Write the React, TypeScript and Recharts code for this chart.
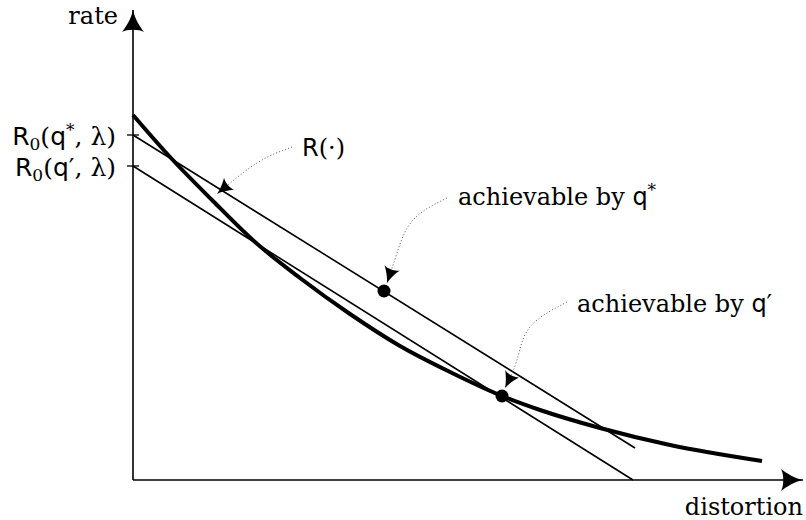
import { ComposedChart, Line, Scatter, XAxis, YAxis } from 'recharts'

// rate-distortion curve R(.)
const curveDist = [0, 0.37, 0.79, 1.22, 1.67, 2.17, 2.67, 3.17, 3.69, 4.07, 4.67, 5.37, 6.29]
const curveRate = [3.65, 3.23, 2.8, 2.38, 2.02, 1.66, 1.34, 1.08, 0.84, 0.7, 0.52, 0.35, 0.19]
const curve = curveDist.map((x, i) => ({ x, y: curveRate[i] }))

// supporting lines of slope -lambda
const lineStar = [{ x: 0, y: 3.45 }, { x: 5.02, y: 0.32 }]
const linePrime = [{ x: 0, y: 3.14 }, { x: 5.0, y: 0.0 }]

// achievable points
const achievable = [{ x: 2.51, y: 1.89 }, { x: 3.69, y: 0.84 }]

// y ticks R0(q*, λ), R0(q', λ)
const rTicks = [3.45, 3.14]
const rTickMarks = ['*', '′']

// dotted pointers, from label to tip
const pointerR = [{ x: 1.59, y: 3.33 }, { x: 1.24, y: 3.17 }, { x: 0.84, y: 2.86 }]
const pointerStar = [{ x: 3.14, y: 2.82 }, { x: 2.8, y: 2.6 }, { x: 2.64, y: 2.27 }, { x: 2.54, y: 1.97 }]
const pointerPrime = [{ x: 4.34, y: 1.78 }, { x: 3.97, y: 1.53 }, { x: 3.84, y: 1.2 }, { x: 3.72, y: 0.92 }]

// annotation text anchors (start, baseline)
const notes = [
  { x: 1.69, y: 3.24, kind: 'R' },
  { x: 3.25, y: 2.75, kind: '*' },
  { x: 4.44, y: 1.68, kind: '′' },
]

const serif = 'DejaVu Serif'
const sans = 'DejaVu Sans'

function NoteText(props: any) {
  const { cx, cy, payload } = props
  if (payload.kind === 'R') {
    return (
      <text x={cx} y={cy} fontFamily={serif} fontSize={24} fill="#000">
        <tspan fontFamily={sans}>R</tspan>(·)
      </text>
    )
  }
  const sup = payload.kind === '*'
  return (
    <text x={cx} y={cy} fontFamily={serif} fontSize={24} fill="#000">
      achievable by <tspan fontFamily={sans}>q</tspan>
      {sup ? <tspan fontSize={17} dy={-9}>*</tspan> : <tspan fontFamily={sans}>′</tspan>}
    </text>
  )
}

function RateTick(props: any) {
  const { x, y, index } = props
  const mark = rTickMarks[index]
  return (
    <g>
      <line x1={x - 6} x2={x + 6} y1={y} y2={y} stroke="#000" strokeWidth={1.3} />
      <text x={x - 17} y={y + 10} textAnchor="end" fontFamily={serif} fontSize={25} fill="#000">
        <tspan fontFamily={sans}>R</tspan>
        <tspan fontSize={17} dy={5}>0</tspan>
        <tspan dy={-5}>(</tspan>
        <tspan fontFamily={sans}>q</tspan>
        {mark === '*' ? (
          <>
            <tspan fontSize={17} dy={-9}>*</tspan>
            <tspan dy={9}>, λ)</tspan>
          </>
        ) : (
          <>
            <tspan fontFamily={sans}>′</tspan>
            <tspan>, λ)</tspan>
          </>
        )}
      </text>
    </g>
  )
}

export default function App() {
  return (
    <div style={{ position: 'absolute', left: 0, top: 0 }}>
      <ComposedChart width={806} height={520} margin={{ top: 10, right: 3, bottom: 0, left: 0 }}>
        <defs>
          <marker id="axisHead" markerUnits="userSpaceOnUse" markerWidth={24} markerHeight={22}
            viewBox="0 0 24 22" refX={22} refY={11} orient="auto-start-reverse">
            <path d="M22,11 C14,9.5 5,4 0,0 C3,5 3,17 0,22 C5,18 14,12.5 22,11 Z" fill="#000" />
          </marker>
          <marker id="pointerHead" markerUnits="userSpaceOnUse" markerWidth={17} markerHeight={16}
            viewBox="0 0 17 16" refX={16} refY={8} orient="auto">
            <path d="M16,8 C11,6.8 4,3 0,0 C2.5,4 2.5,12 0,16 C4,13 11,9.2 16,8 Z" fill="#000" />
          </marker>
        </defs>
        <XAxis
          type="number"
          dataKey="x"
          domain={[0, 6.7]}
          tick={false}
          tickLine={false}
          height={40}
          axisLine={{ stroke: '#000', strokeWidth: 1.6, markerEnd: 'url(#axisHead)' }}
          label={({ viewBox }: any) => (
            <text x={viewBox.x + viewBox.width} y={viewBox.y + 35} textAnchor="end"
              fontFamily={serif} fontSize={24} fill="#000">distortion</text>
          )}
        />
        <YAxis
          type="number"
          dataKey="y"
          domain={[0, 4.7]}
          ticks={rTicks}
          tickSize={0}
          tickMargin={0}
          tickLine={false}
          tick={<RateTick />}
          width={133}
          axisLine={{ stroke: '#000', strokeWidth: 1.6, markerStart: 'url(#axisHead)' }}
          label={({ viewBox }: any) => (
            <text x={viewBox.x + viewBox.width - 15} y={viewBox.y + 14} textAnchor="end"
              fontFamily={serif} fontSize={24} fill="#000">rate</text>
          )}
        />
        <Line data={lineStar} dataKey="y" type="linear" stroke="#000" strokeWidth={1.6} dot={false} isAnimationActive={false} />
        <Line data={linePrime} dataKey="y" type="linear" stroke="#000" strokeWidth={1.6} dot={false} isAnimationActive={false} />
        <Line data={curve} dataKey="y" type="monotone" stroke="#000" strokeWidth={4} dot={false} isAnimationActive={false} />
        <Line data={pointerR} dataKey="y" type="natural" stroke="#555" strokeWidth={1} strokeDasharray="1 2.2"
          dot={false} markerEnd="url(#pointerHead)" isAnimationActive={false} />
        <Line data={pointerStar} dataKey="y" type="natural" stroke="#555" strokeWidth={1} strokeDasharray="1 2.2"
          dot={false} markerEnd="url(#pointerHead)" isAnimationActive={false} />
        <Line data={pointerPrime} dataKey="y" type="natural" stroke="#555" strokeWidth={1} strokeDasharray="1 2.2"
          dot={false} markerEnd="url(#pointerHead)" isAnimationActive={false} />
        <Scatter data={achievable} dataKey="y" fill="#000"
          shape={(p: any) => <circle cx={p.cx} cy={p.cy} r={6.5} fill="#000" />} isAnimationActive={false} />
        <Scatter data={notes} dataKey="y" shape={(p: any) => <NoteText {...p} />} isAnimationActive={false} />
      </ComposedChart>
    </div>
  )
}
